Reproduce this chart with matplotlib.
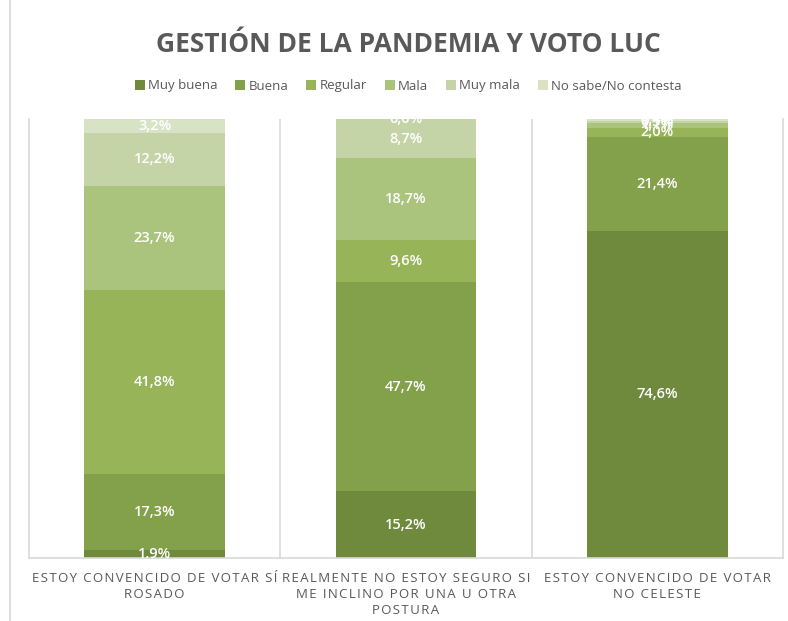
import numpy as np
import matplotlib.pyplot as plt
from matplotlib.lines import Line2D

plt.rcParams['font.family'] = ['Open Sans', 'DejaVu Sans']

categories = ["ESTOY CONVENCIDO DE VOTAR SÍ\nROSADO",
              "REALMENTE NO ESTOY SEGURO SI\nME INCLINO POR UNA U OTRA\nPOSTURA",
              "ESTOY CONVENCIDO DE VOTAR\nNO CELESTE"]
series = ["Muy buena", "Buena", "Regular", "Mala", "Muy mala", "No sabe/No contesta"]
muy_buena = [1.9, 15.2, 74.6]
buena = [17.3, 47.7, 21.4]
regular = [41.8, 9.6, 2.0]
mala = [23.7, 18.7, 1.1]
muy_mala = [12.2, 8.7, 0.5]
no_sabe = [3.2, 0.0, 0.4]
colors = ["#6f8a3d", "#83a04b", "#97b458", "#abc47d", "#c4d4a7", "#d8e3c5"]
txt_col = "#595959"


def spaced(s):
    # fake Excel letter spacing with hair spaces
    return "\n".join("\u200a".join(line) for line in s.split("\n"))


fig = plt.figure(figsize=(7.88, 6.21), dpi=100)
ax = fig.add_axes([29 / 788, 63 / 621, 754 / 788, 439 / 621])

x = np.arange(len(categories))
bottom = np.zeros(len(categories))
for name, vals, c in zip(series, [muy_buena, buena, regular, mala, muy_mala, no_sabe], colors):
    vals = np.array(vals)
    ax.bar(x, vals, 0.56, bottom=bottom, color=c, label=name)
    for xi, b, v in zip(x, bottom, vals):
        ax.text(xi, b + v / 2, f"{v:.1f}".replace(".", ",") + "%", ha="center", va="center",
                color="white", fontsize=10.5, fontweight="semibold", clip_on=True)
    bottom += vals

ax.set_xlim(-0.5, 2.5)
ax.set_ylim(0, 100)
ax.set_yticks([])
ax.set_xticks(x)
ax.set_xticklabels([spaced(c) for c in categories], fontsize=9.5, color=txt_col, linespacing=1.3)
ax.tick_params(axis="x", length=0, pad=10)
for xs in [0.5, 1.5]:
    ax.axvline(xs, color="#d9d9d9", lw=1.2)
ax.spines["top"].set_visible(False)
for s in ["left", "right", "bottom"]:
    ax.spines[s].set_color("#d9d9d9")
    ax.spines[s].set_linewidth(1.2)

fig.add_artist(Line2D([10 / 788, 10 / 788], [0, 1], color="#d9d9d9", lw=1.2))

fig.text(0.518, 1 - 45 / 621, "GESTIÓN DE LA PANDEMIA Y VOTO LUC", ha="center", va="center",
         fontsize=19, fontweight="bold", color=txt_col)
fig.legend(loc="center", bbox_to_anchor=(0.518, 1 - 86 / 621), ncol=6, frameon=False,
           fontsize=9.5, handlelength=0.75, handleheight=0.75, handletextpad=0.25, columnspacing=1.35,
           labelcolor=txt_col)

fig.savefig("out.png", dpi=100)
